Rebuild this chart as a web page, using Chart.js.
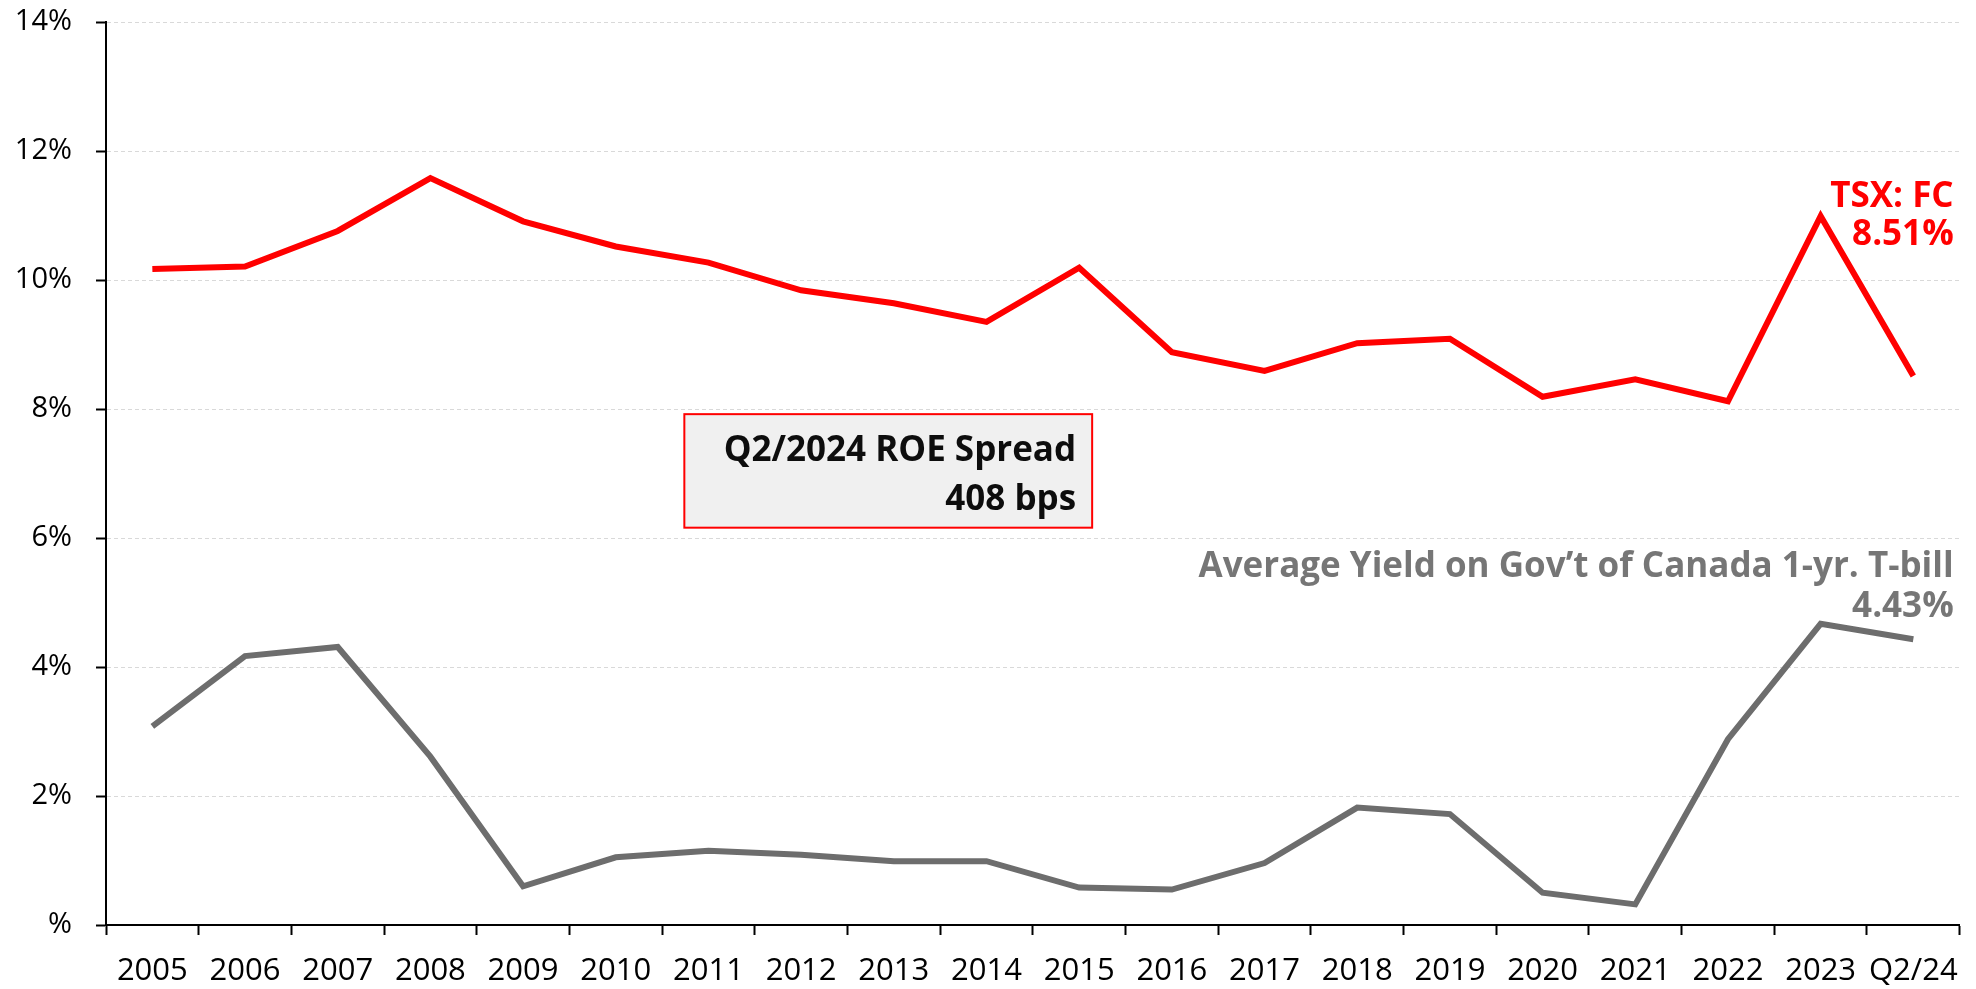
<!DOCTYPE html>
<html>
<head>
<meta charset="utf-8">
<script src="https://cdn.jsdelivr.net/npm/chart.js@4/dist/chart.umd.min.js"></script>
<style>
  html, body { margin: 0; padding: 0; background: #ffffff; }
  #chart { display: block; }
</style>
</head>
<body>
<canvas id="chart" width="1976" height="989"></canvas>
<script>
// categories and series (percent)
var categories = ["2005", "2006", "2007", "2008", "2009", "2010", "2011", "2012", "2013", "2014",
                  "2015", "2016", "2017", "2018", "2019", "2020", "2021", "2022", "2023", "Q2/24"];
var roeFC = [10.17, 10.21, 10.76, 11.58, 10.91, 10.52, 10.27, 9.84, 9.64, 9.35,
             10.19, 8.88, 8.59, 9.02, 9.09, 8.19, 8.46, 8.12, 10.99, 8.51];
var tbillYield = [3.08, 4.17, 4.31, 2.61, 0.60, 1.05, 1.15, 1.09, 0.99, 0.99,
                  0.58, 0.55, 0.96, 1.82, 1.72, 0.50, 0.32, 2.88, 4.67, 4.43];
var yTicks = [0, 2, 4, 6, 8, 10, 12, 14];

var roeLabel = ["TSX: FC", "8.51%"];
var tbillLabel = ["Average Yield on Gov\u2019t of Canada 1-yr. T-bill", "4.43%"];
var spreadLabel = ["Q2/2024 ROE Spread", "408 bps"];

var labelFont = "bold 35px 'Open Sans'";

// annotation text + spread box drawn after the datasets
var annotations = {
  id: "annotations",
  afterDatasetsDraw(chart) {
    let ctx = chart.ctx;
    let area = chart.chartArea;
    let y = chart.scales.y;
    let right = area.right - 6;
    ctx.save();
    ctx.font = labelFont;
    ctx.textAlign = "right";
    ctx.textBaseline = "alphabetic";

    ctx.fillStyle = "#ff0000";
    ctx.fillText(roeLabel[0], right, y.getPixelForValue(11.13));
    ctx.fillText(roeLabel[1], right, y.getPixelForValue(10.55));

    ctx.fillStyle = "#767676";
    ctx.fillText(tbillLabel[0], right, y.getPixelForValue(5.40));
    ctx.fillText(tbillLabel[1], right, y.getPixelForValue(4.78));

    // spread box
    let bx1 = area.left + (area.right - area.left) * 0.312;
    let bx2 = area.left + (area.right - area.left) * 0.532;
    let by1 = y.getPixelForValue(7.92);
    let by2 = y.getPixelForValue(6.16);
    ctx.fillStyle = "#f0f0f0";
    ctx.fillRect(bx1, by1, bx2 - bx1, by2 - by1);
    ctx.strokeStyle = "#ff0000";
    ctx.lineWidth = 2;
    ctx.strokeRect(bx1, by1, bx2 - bx1, by2 - by1);
    ctx.fillStyle = "#0d0d0d";
    ctx.fillText(spreadLabel[0], bx2 - 16, y.getPixelForValue(7.20));
    ctx.fillText(spreadLabel[1], bx2 - 16, y.getPixelForValue(6.43));
    ctx.restore();
  }
};

new Chart(document.getElementById("chart"), {
  type: "line",
  data: {
    labels: categories,
    datasets: [
      {
        label: "TSX: FC ROE",
        data: roeFC,
        borderColor: "#ff0000",
        borderWidth: 6,
        borderJoinStyle: "miter",
        pointRadius: 0,
        tension: 0
      },
      {
        label: "1-yr T-bill",
        data: tbillYield,
        borderColor: "#6d6d6d",
        borderWidth: 6,
        borderJoinStyle: "miter",
        pointRadius: 0,
        tension: 0
      }
    ]
  },
  options: {
    responsive: false,
    animation: false,
    layout: { padding: { top: 22, right: 14, left: 0, bottom: 0 } },
    plugins: {
      legend: { display: false },
      tooltip: { enabled: false }
    },
    scales: {
      x: {
        offset: true,
        afterFit(scale) {
          scale.height = 64;
        },
        grid: {
          offset: true,
          drawOnChartArea: false,
          drawTicks: true,
          tickLength: 10,
          tickColor: "#000000",
          tickWidth: 2
        },
        border: { display: true, color: "#000000", width: 2 },
        ticks: {
          color: "#000000",
          font: { family: "'Open Sans'", size: 31 },
          padding: 18,
          maxRotation: 0,
          autoSkip: false
        }
      },
      y: {
        min: 0,
        max: 14,
        afterBuildTicks(scale) {
          scale.ticks = yTicks.map(v => ({ value: v }));
        },
        afterFit(scale) {
          scale.width = 106;
          scale.paddingTop = 0;
          scale.paddingBottom = 0;
        },
        grid: {
          color: "#d9d9d9",
          lineWidth: 1,
          tickColor: "#000000",
          tickLength: 10,
          tickWidth: 2,
          tickBorderDash: []
        },
        border: { display: true, color: "#000000", width: 2, dash: [4, 3] },
        ticks: {
          color: "#000000",
          font: { family: "'Open Sans'", size: 29 },
          padding: 24,
          callback: v => v === 0 ? "%" : v + "%"
        }
      }
    }
  },
  plugins: [annotations]
});
</script>
</body>
</html>
